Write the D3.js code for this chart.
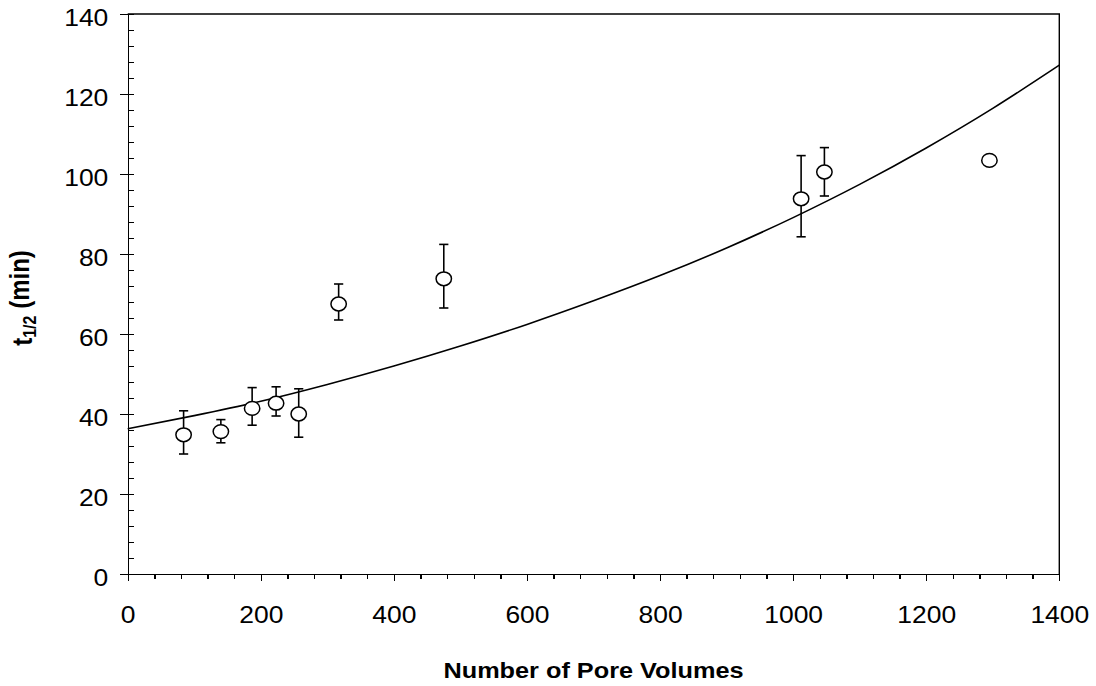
<!DOCTYPE html>
<html>
<head>
<meta charset="utf-8">
<script src="https://cdn.jsdelivr.net/npm/d3@7"></script>
<style>
  body { margin: 0; background: #fff; }
  svg { display: block; font-family: "Liberation Sans", Arial, sans-serif; }
  .axis path, .axis line { stroke: #000; stroke-width: 1.4; shape-rendering: crispEdges; }
</style>
</head>
<body>
<div id="chart"></div>
<script>
// measured points (pore volumes vs half-life), with error bar ends
const poreVolumes = [84, 140, 187, 223, 257, 317, 475, 1012, 1047, 1295];
const halfLife    = [34.8, 35.6, 41.4, 42.7, 40.0, 67.5, 73.8, 93.8, 100.5, 103.4];
const errLow      = [30.0, 32.8, 37.2, 39.5, 34.2, 63.5, 66.5, 84.3, 94.5, null];
const errHigh     = [40.8, 38.6, 46.6, 46.8, 46.3, 72.5, 82.4, 104.6, 106.6, null];

// fitted curve
const curveX = [0, 100, 200, 300, 400, 500, 600, 700, 800, 900, 1000, 1100, 1200, 1300, 1400];
const curveY = [36.3, 39.6, 43.2, 47.4, 52.0, 57.0, 62.4, 68.3, 74.6, 81.5, 89.1, 97.4, 106.5, 116.4, 127.2];

// axis ticks
const xTicks = [0, 200, 400, 600, 800, 1000, 1200, 1400];
const yTicks = [0, 20, 40, 60, 80, 100, 120, 140];

const width = 1096, height = 686;
const margin = { top: 14, right: 36.7, bottom: 112, left: 127.7 };
const innerW = width - margin.left - margin.right;
const innerH = height - margin.top - margin.bottom;
const stretch = 1.15; // the source text is a bit wider than normal

const svg = d3.select('#chart').append('svg')
  .attr('width', width)
  .attr('height', height);

const plot = svg.append('g')
  .attr('transform', `translate(${margin.left},${margin.top})`);

const x = d3.scaleLinear().domain([0, 1400]).range([0, innerW]);
const y = d3.scaleLinear().domain([0, 140]).range([innerH, 0]);

// frame (top and right)
plot.append('path')
  .attr('d', `M0,0H${innerW}V${innerH}`)
  .attr('fill', 'none')
  .attr('stroke', '#000')
  .attr('stroke-width', 1.4);

// minor ticks
plot.append('g')
  .attr('class', 'axis')
  .attr('transform', `translate(0,${innerH})`)
  .call(d3.axisBottom(x).tickValues(d3.range(0, 1401, 40)).tickSize(5).tickFormat(''))
  .call(g => g.select('.domain').remove());

plot.append('g')
  .attr('class', 'axis')
  .call(d3.axisRight(y).tickValues(d3.range(0, 141, 4)).tickSize(6).tickFormat(''))
  .call(g => g.select('.domain').remove());

// major x axis
plot.append('g')
  .attr('class', 'axis')
  .attr('transform', `translate(0,${innerH})`)
  .call(d3.axisBottom(x).tickValues(xTicks).tickSizeInner(7).tickSizeOuter(0).tickFormat(d3.format('d')))
  .call(g => g.selectAll('text')
    .attr('y', null).attr('dy', null)
    .attr('transform', `translate(0,49) scale(${stretch},1)`)
    .style('font-size', '23px')
    .style('fill', '#000'));

// major y axis
plot.append('g')
  .attr('class', 'axis')
  .call(d3.axisLeft(y).tickValues(yTicks).tickSizeInner(8).tickSizeOuter(0).tickFormat(d3.format('d')))
  .call(g => g.selectAll('text')
    .attr('x', null).attr('dy', '0.5em')
    .attr('transform', `translate(-19.4,0) scale(${stretch},1)`)
    .style('font-size', '23px')
    .style('fill', '#000'));

// fitted curve
const line = d3.line()
  .x((d, i) => x(curveX[i]))
  .y(d => y(d))
  .curve(d3.curveMonotoneX);

plot.append('path')
  .datum(curveY)
  .attr('d', line)
  .attr('fill', 'none')
  .attr('stroke', '#000')
  .attr('stroke-width', 1.6);

// error bars
const pts = poreVolumes.map((v, i) => ({ x: v, y: halfLife[i], lo: errLow[i], hi: errHigh[i] }));
const bars = plot.selectAll('.err')
  .data(pts.filter(d => d.lo != null))
  .enter().append('g')
    .attr('class', 'err')
    .attr('stroke', '#000')
    .attr('stroke-width', 1.6);

bars.append('line')
  .attr('x1', d => x(d.x)).attr('x2', d => x(d.x))
  .attr('y1', d => y(d.lo)).attr('y2', d => y(d.hi));
bars.append('line')
  .attr('x1', d => x(d.x) - 4.6).attr('x2', d => x(d.x) + 4.6)
  .attr('y1', d => y(d.hi)).attr('y2', d => y(d.hi));
bars.append('line')
  .attr('x1', d => x(d.x) - 4.6).attr('x2', d => x(d.x) + 4.6)
  .attr('y1', d => y(d.lo)).attr('y2', d => y(d.lo));

// open circles
plot.selectAll('.pt')
  .data(pts)
  .enter().append('ellipse')
    .attr('class', 'pt')
    .attr('cx', d => x(d.x))
    .attr('cy', d => y(d.y))
    .attr('rx', 7.7)
    .attr('ry', 6.9)
    .attr('fill', '#fff')
    .attr('stroke', '#000')
    .attr('stroke-width', 1.5);

// axis titles
svg.append('text')
  .attr('transform', `translate(${margin.left + innerW / 2},678) scale(${stretch},1)`)
  .attr('text-anchor', 'middle')
  .style('font-size', '22px')
  .style('font-weight', 'bold')
  .text('Number of Pore Volumes');

const yTitle = svg.append('text')
  .attr('transform', `translate(31.5,${margin.top + innerH / 2 + 4}) scale(${stretch},1) rotate(-90)`)
  .attr('text-anchor', 'middle')
  .style('font-size', '24px')
  .style('font-weight', 'bold');
yTitle.append('tspan').text('t');
yTitle.append('tspan').attr('dy', '0.25em').style('font-size', '16px').text('1/2');
yTitle.append('tspan').attr('dy', '-0.25em').text(' (min)');
</script>
</body>
</html>
